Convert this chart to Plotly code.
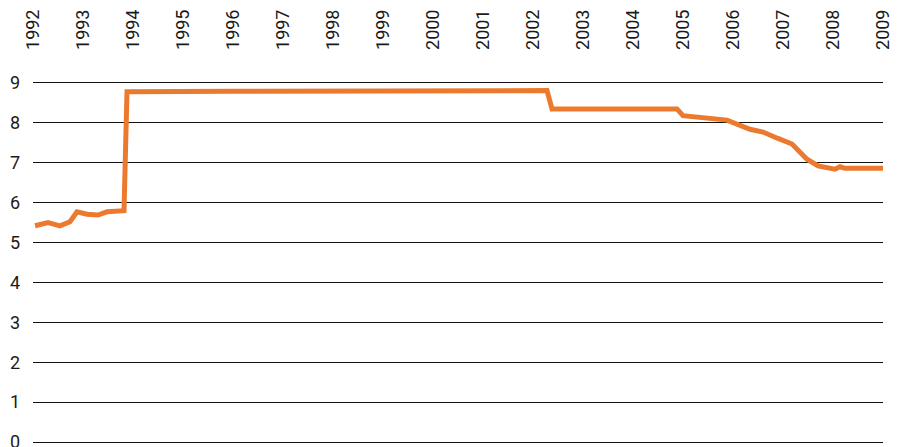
import plotly.graph_objects as go

years = [1992.04, 1992.30, 1992.54, 1992.74, 1992.88, 1993.08, 1993.30, 1993.48, 1993.82,
         1993.88, 1996.0, 2000.0, 2002.28, 2002.38, 2004.88, 2005.0, 2005.6, 2005.88,
         2006.34, 2006.6, 2006.9, 2007.18, 2007.48, 2007.7, 2008.04, 2008.14, 2008.24, 2009.0]
values = [5.42, 5.50, 5.42, 5.52, 5.77, 5.71, 5.69, 5.77, 5.80,
          8.78, 8.79, 8.80, 8.81, 8.35, 8.35, 8.18, 8.09, 8.07,
          7.84, 7.77, 7.61, 7.47, 7.09, 6.92, 6.84, 6.90, 6.86, 6.86]
tick_years = list(range(1992, 2010))
y_ticks = list(range(0, 10))

fig = go.Figure()
fig.add_trace(go.Scatter(x=years, y=values, mode="lines",
                         line=dict(color="#EC7A2E", width=5), showlegend=False,
                         cliponaxis=False))

font = dict(family="Roboto, DejaVu Sans, sans-serif", size=18, color="#1a1a1a", weight=400)
fig.update_layout(
    width=906, height=447,
    margin=dict(l=33, r=23, t=81, b=1),
    paper_bgcolor="white", plot_bgcolor="white",
    font=font,
    xaxis=dict(side="top", range=[1992, 2009], tickvals=tick_years,
               ticktext=[str(y) for y in tick_years], tickangle=-90,
               showgrid=False, zeroline=False, showline=False, ticks="",
               ticklabelstandoff=30, tickfont=font, automargin=False,
               ticklabeloverflow="allow"),
    yaxis=dict(range=[-0.1, 9.05], tickvals=y_ticks, showgrid=True, gridcolor="#111111",
               gridwidth=1, zeroline=False, showline=False, ticks="",
               ticklabelstandoff=12, tickfont=font, automargin=False,
               ticklabeloverflow="allow"),
)
fig.write_html("out.html", config={"displayModeBar": False},
               post_script="document.body.style.margin='0';")
